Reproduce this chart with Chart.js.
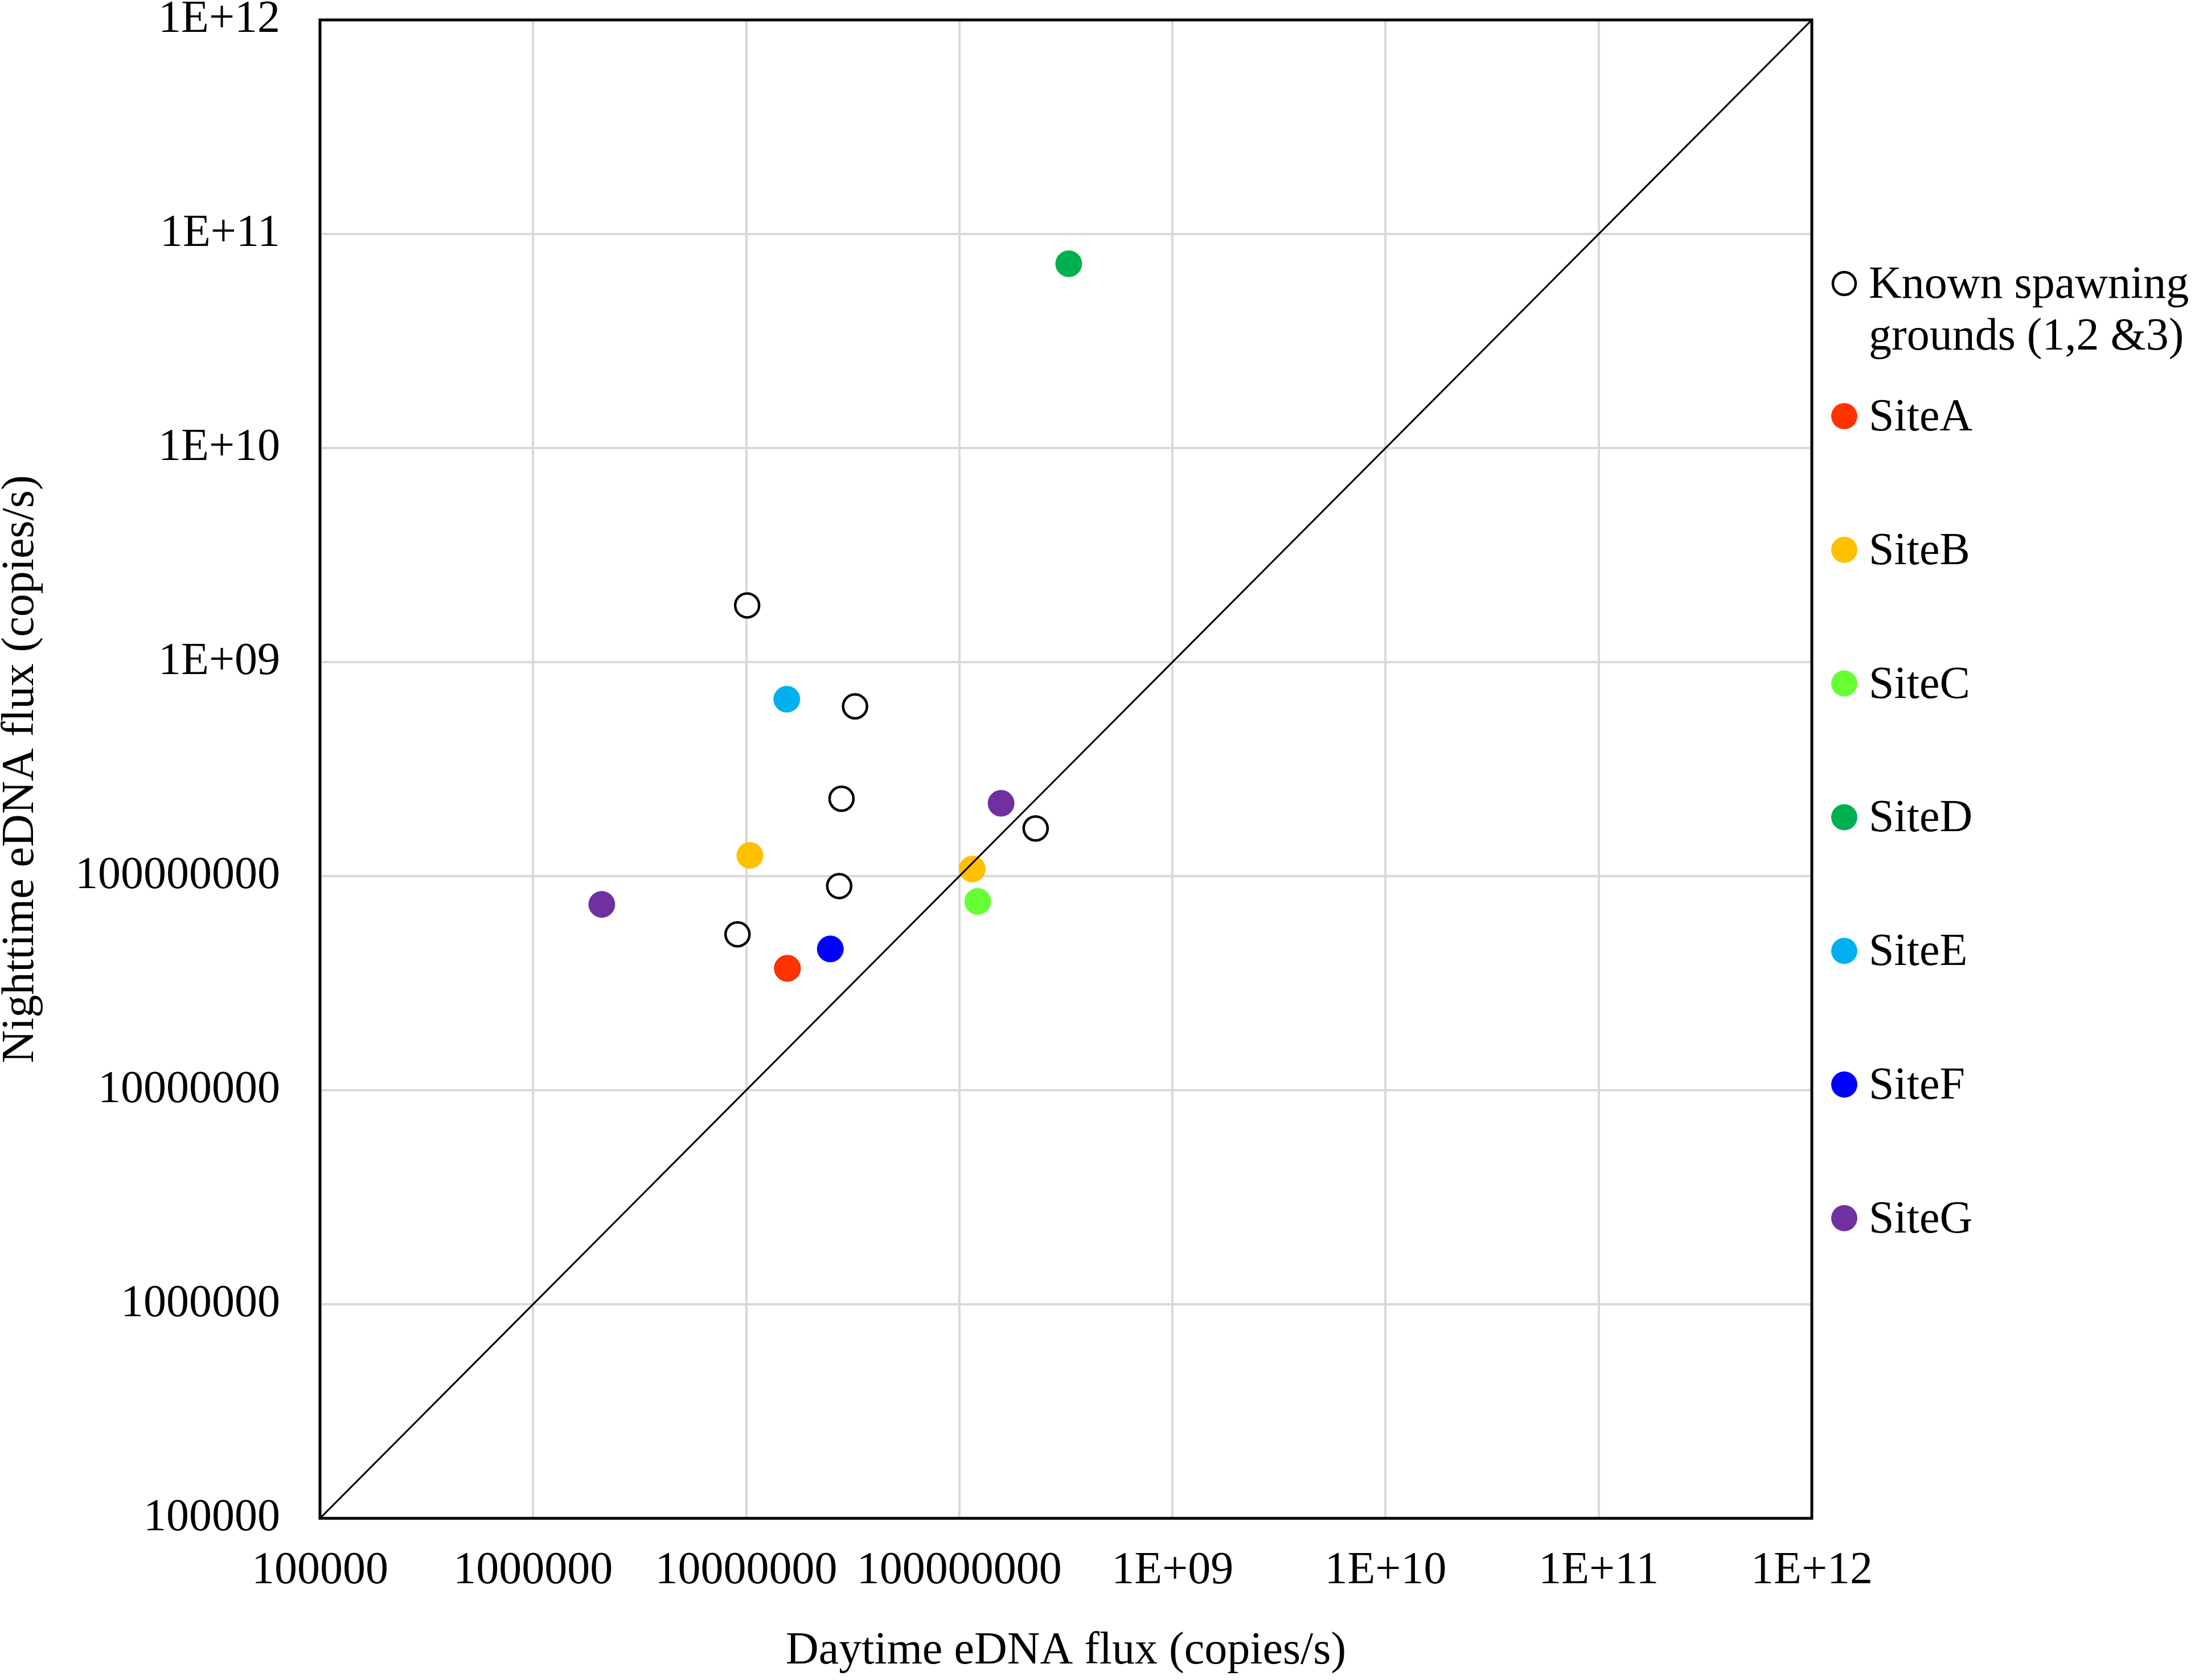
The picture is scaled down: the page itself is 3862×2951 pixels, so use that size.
<!DOCTYPE html>
<html>
<head>
<meta charset="utf-8">
<script src="https://cdn.jsdelivr.net/npm/chart.js@4.4.1/dist/chart.umd.min.js"></script>
<style>
  html, body { margin: 0; padding: 0; background: #fff; }
  #wrap { width: 3862px; height: 2951px; position: relative; }
</style>
</head>
<body>
<div id="wrap"><canvas id="chart"></canvas></div>
<script>
// decade ticks and their labels (Excel style)
const decadeTicks = [1e5, 1e6, 1e7, 1e8, 1e9, 1e10, 1e11, 1e12];
const xTickLabels = ['100000', '1000000', '10000000', '100000000', '1E+09', '1E+10', '1E+11', '1E+12'];
const yTickLabels = ['100000', '1000000', '10000000', '100000000', '1E+09', '1E+10', '1E+11', '1E+12'];

// day / night eDNA flux (copies/s)
const knownDay   = [1.01e7, 3.24e7, 2.80e7, 2.28e8, 2.73e7, 9.1e6];
const knownNight = [1.84e9, 6.21e8, 2.30e8, 1.67e8, 8.99e7, 5.35e7];
const siteADay = [1.56e7];          const siteANight = [3.71e7];
const siteBDay = [1.04e7, 1.15e8];  const siteBNight = [1.25e8, 1.08e8];
const siteCDay = [1.22e8];          const siteCNight = [7.62e7];
const siteDDay = [3.26e8];          const siteDNight = [7.26e10];
const siteEDay = [1.55e7];          const siteENight = [6.71e8];
const siteFDay = [2.48e7];          const siteFNight = [4.57e7];
const siteGDay = [2.10e6, 1.57e8];  const siteGNight = [7.38e7, 2.19e8];

// 1:1 line
const oneToOne = [1e5, 1e12];

const pts = (xs, ys) => xs.map((x, i) => ({ x: x, y: ys[i] }));
const FONT = '"Liberation Serif", "Times New Roman", serif';

function site(label, xs, ys, color, border) {
  return {
    label: label,
    data: pts(xs, ys),
    pointRadius: 23,
    pointBackgroundColor: color,
    pointBorderColor: border || color,
    pointBorderWidth: 1,
    showLine: false
  };
}

const datasets = [
  {
    label: '1:1',
    data: pts(oneToOne, oneToOne),
    showLine: true,
    borderColor: '#000',
    borderWidth: 3,
    pointRadius: 0,
    legendSkip: true
  },
  {
    label: ['Known spawning', 'grounds (1,2 &3)'],
    data: pts(knownDay, knownNight),
    pointRadius: 21,
    pointBackgroundColor: '#fff',
    pointBorderColor: '#000',
    pointBorderWidth: 4.5,
    showLine: false
  },
  site('SiteA', siteADay, siteANight, '#FF3300', '#FF0000'),
  site('SiteB', siteBDay, siteBNight, '#FFC000'),
  site('SiteC', siteCDay, siteCNight, '#66FF33'),
  site('SiteD', siteDDay, siteDNight, '#00B050'),
  site('SiteE', siteEDay, siteENight, '#00B0F0'),
  site('SiteF', siteFDay, siteFNight, '#0000FF'),
  site('SiteG', siteGDay, siteGNight, '#7030A0')
];

// plot frame + legend on the right
const framePlugin = {
  id: 'frame',
  afterDraw(chart) {
    const { ctx, chartArea: a } = chart;
    ctx.save();
    ctx.strokeStyle = '#000';
    ctx.lineWidth = 5;
    ctx.strokeRect(a.left, a.top, a.right - a.left, a.bottom - a.top);

    ctx.font = '80px ' + FONT;
    ctx.textBaseline = 'middle';
    ctx.textAlign = 'left';
    const markerX = a.right + 57;
    const textX = a.right + 100;
    let k = 0;
    chart.data.datasets.forEach((ds) => {
      if (ds.legendSkip) return;
      const lines = Array.isArray(ds.label) ? ds.label : [ds.label];
      const y = k === 0 ? a.top + 463 : a.top + 696 + (k - 1) * 234.8;
      ctx.beginPath();
      if (ds.pointBackgroundColor === '#fff') {
        ctx.arc(markerX, y, 20, 0, Math.PI * 2);
        ctx.fillStyle = '#fff';
        ctx.fill();
        ctx.lineWidth = 4.5;
        ctx.strokeStyle = '#000';
        ctx.stroke();
      } else {
        ctx.arc(markerX, y, 23, 0, Math.PI * 2);
        ctx.fillStyle = ds.pointBackgroundColor;
        ctx.fill();
      }
      ctx.fillStyle = '#000';
      lines.forEach((t, j) => ctx.fillText(t, textX, y + 4 + j * 91));
      k++;
    });
    ctx.restore();
  }
};

function decadeScale(labels, titleText, isX) {
  return {
    type: 'logarithmic',
    min: 1e5,
    max: 1e12,
    afterBuildTicks(scale) {
      scale.ticks = decadeTicks.map(v => ({ value: v }));
    },
    afterFit(scale) {
      if (isX) {
        scale.height = 284;
        scale.paddingLeft = 0;
        scale.paddingRight = 0;
      } else {
        scale.width = 562;
        scale.paddingTop = 0;
        scale.paddingBottom = 0;
      }
    },
    grid: { color: '#d9d9d9', lineWidth: 4, drawTicks: false },
    border: { display: false },
    ticks: {
      color: '#000',
      font: { family: FONT, size: 80, lineHeight: 1.2 },
      padding: isX ? 45 : 70,
      autoSkip: false,
      maxRotation: 0,
      callback: (v) => labels[Math.round(Math.log10(v)) - 5]
    },
    title: {
      display: true,
      text: titleText,
      color: '#000',
      font: { family: FONT, size: 80, lineHeight: 1 },
      padding: isX ? { top: 0, bottom: 10 } : { top: -3, bottom: 0 }
    }
  };
}

new Chart(document.getElementById('chart').getContext('2d'), {
  type: 'scatter',
  data: { datasets: datasets },
  options: {
    responsive: true,
    maintainAspectRatio: false,
    devicePixelRatio: 1,
    animation: false,
    layout: { padding: { top: 35, right: 680, left: 0, bottom: 0 } },
    plugins: {
      legend: { display: false },
      tooltip: { enabled: false }
    },
    scales: {
      x: decadeScale(xTickLabels, 'Daytime eDNA flux (copies/s)', true),
      y: decadeScale(yTickLabels, 'Nighttime eDNA flux (copies/s)', false)
    }
  },
  plugins: [framePlugin]
});
</script>
</body>
</html>
